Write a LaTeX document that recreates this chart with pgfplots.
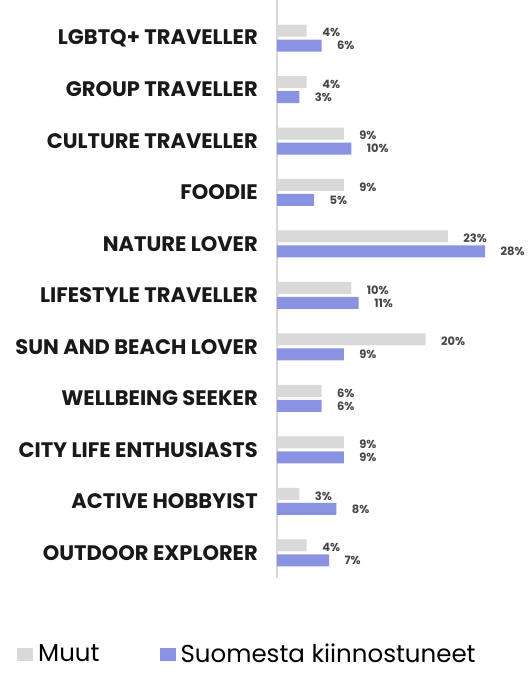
\documentclass[border=0pt]{standalone}
\usepackage{fontspec}
\setmainfont{Poppins}
\usepackage{pgfplots}
\pgfplotsset{compat=1.18}
\usepackage{pgfplotstable}
\definecolor{gbar}{RGB}{217,217,217}
\definecolor{bbar}{RGB}{138,147,225}
\definecolor{vlab}{RGB}{70,70,70}
\definecolor{axl}{RGB}{215,215,215}
\pgfplotstableread{
y muut suomi
10 4 6
9 4 3
8 9 10
7 9 5
6 23 28
5 10 11
4 20 9
3 6 6
2 9 9
1 3 8
0 4 7
}\datatable
\begin{document}
\begin{tikzpicture}
\useasboundingbox (-277pt,-96pt) rectangle (250pt,578pt);
\begin{axis}[
  at={(0,0)}, anchor=south west,
  scale only axis, width=245.2pt, height=578pt,
  xbar, bar width=12pt,
  xmin=0, xmax=33, ymin=-0.49, ymax=10.74,
  hide x axis,
  axis y line*=left,
  y axis line style={draw=axl, line width=2pt, -},
  major tick length=0pt,
  /pgf/number format/assume math mode=true,
  ytick={0,...,10},
  yticklabels={OUTDOOR EXPLORER, ACTIVE HOBBYIST, CITY LIFE ENTHUSIASTS, WELLBEING SEEKER, SUN AND BEACH LOVER, LIFESTYLE TRAVELLER, NATURE LOVER, FOODIE, CULTURE TRAVELLER, GROUP TRAVELLER, LGBTQ+ TRAVELLER},
  yticklabel style={font=\fontsize{21}{21}\selectfont\bfseries, text=black!90, inner sep=0pt, xshift=-19pt},
  nodes near coords={\pgfmathprintnumber{\pgfplotspointmeta}\%},
  nodes near coords style={font=\fontsize{11.5}{11.5}\selectfont\bfseries, text=vlab, anchor=west, xshift=12pt},
  legend columns=2,
  legend style={draw=none, fill=none, at={(axis description cs:0,0)}, anchor=west, xshift=-263pt, yshift=-76pt,
    font=\fontsize{24.5}{24.5}\selectfont, /tikz/every even column/.append style={column sep=55pt},
    nodes={inner xsep=5pt, inner ysep=0pt}},
  legend image code/.code={\fill[#1, draw=none] (0pt,-6.5pt) rectangle (16pt,6.5pt);},
  clip=false,
]
\addplot[fill=gbar, draw=none, bar shift=7.5pt, nodes near coords style={yshift=-2pt}] table[x=muut, y=y] {\datatable};
\addplot[fill=bbar, draw=none, bar shift=-7.5pt] table[x=suomi, y=y] {\datatable};
\legend{Muut, Suomesta kiinnostuneet}
\end{axis}
\end{tikzpicture}
\end{document}
